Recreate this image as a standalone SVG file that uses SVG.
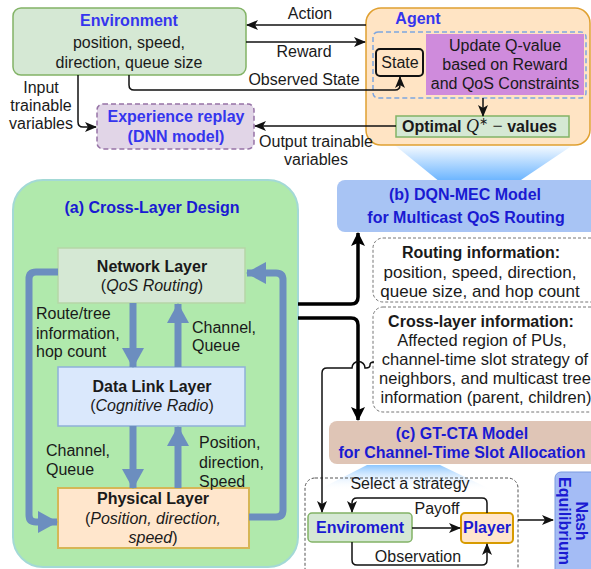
<svg xmlns="http://www.w3.org/2000/svg" width="591" height="569" viewBox="0 0 591 569">
<style>
text{font-family:"Liberation Sans",Arial,sans-serif;font-size:16px;fill:#1a1a1a}
.c{text-anchor:middle}
.b{font-weight:bold}
.t{font-weight:bold;fill:#3535ee}
.t2{font-weight:bold;fill:#1a1ad2}
.s17{font-size:17px}
.s165{font-size:16.5px}
.thin{fill:none;stroke:#111;stroke-width:1.5}
.thick{fill:none;stroke:#000;stroke-width:3.5}
.blue{fill:none;stroke:#6c8ebf;stroke-width:7}
</style>
<defs>
<marker id="ah" markerUnits="userSpaceOnUse" viewBox="0 0 12 10" refX="11" refY="5" markerWidth="12" markerHeight="10" orient="auto">
<path d="M0,0 L12,5 L0,10 L3,5 Z" fill="#111"/>
</marker>
<marker id="ahb" markerUnits="userSpaceOnUse" viewBox="0 0 14 14" refX="13" refY="7" markerWidth="14" markerHeight="14" orient="auto">
<path d="M0,0 L14,7 L0,14 L3,7 Z" fill="#000"/>
</marker>
<marker id="ahu" markerUnits="userSpaceOnUse" viewBox="0 0 20 22" refX="19" refY="11" markerWidth="20" markerHeight="22" orient="auto">
<path d="M0,0 L20,11 L0,22 Z" fill="#6c8ebf"/>
</marker>
<linearGradient id="g1" x1="0" y1="0" x2="0" y2="1">
<stop offset="0" stop-color="#ffffff"/>
<stop offset="1" stop-color="#66b2ff"/>
</linearGradient>
<linearGradient id="g2" x1="0" y1="0" x2="0" y2="1">
<stop offset="0" stop-color="#8cc6ff"/>
<stop offset="1" stop-color="#ffffff" stop-opacity="0"/>
</linearGradient>
</defs>

<!-- gradients -->
<polygon points="392,143 576,143 518,182 440,182" fill="url(#g1)"/>
<polygon points="367,465 440,465 492,490 318,490" fill="url(#g2)"/>

<!-- top nodes -->
<g id="environment">
<rect x="13" y="8" width="233" height="67" rx="8" fill="#d5e8d4" stroke="#82b366" stroke-width="1.5"/>
<text x="129" y="26" class="c t">Environment</text>
<text x="129" y="48" class="c">position, speed,</text>
<text x="129" y="68" class="c">direction, queue size</text>
</g>

<g id="agent">
<rect x="366" y="8" width="224" height="137" rx="15" fill="#ffe4c4" stroke="#e0a030" stroke-width="1.5"/>
<text x="418" y="24" class="c t">Agent</text>
<rect x="373" y="32" width="213" height="66" rx="5" fill="none" stroke="#7ea6e0" stroke-width="1.5" stroke-dasharray="5,3"/>
</g>

<g id="state">
<rect x="376" y="49" width="47" height="27" rx="4" fill="#ffe4c4" stroke="#111" stroke-width="2"/>
<text x="400" y="68" class="c">State</text>
</g>

<g id="update">
<rect x="426" y="34" width="158" height="61" fill="#cf8bdc"/>
<text x="505" y="51" class="c">Update Q-value</text>
<text x="505" y="70" class="c">based on Reward</text>
<text x="505" y="89" class="c">and QoS Constraints</text>
</g>

<g id="optimal">
<rect x="396" y="116" width="173" height="21" fill="#d5e8d4" stroke="#82b366" stroke-width="1.5"/>
<text x="402" y="132"><tspan class="b">Optimal </tspan><tspan font-family="'Liberation Serif',serif" font-style="italic" font-size="18">Q</tspan><tspan font-family="'Liberation Serif',serif" font-size="11" dy="-7">∗</tspan><tspan font-family="'Liberation Serif',serif" font-size="18" dy="7"> − </tspan><tspan class="b">values</tspan></text>
</g>

<g id="experience-replay">
<rect x="97" y="104" width="157" height="45" rx="6" fill="#e1d5e7" stroke="#9673a6" stroke-width="1.5" stroke-dasharray="5,3"/>
<text x="176" y="122" class="c t">Experience replay</text>
<text x="176" y="142" class="c t">(DNN model)</text>
</g>

<!-- cross-layer design -->
<g id="cross-layer">
<rect x="13" y="180" width="285" height="387" rx="30" fill="#b0e9ac" stroke="#a3d9d6" stroke-width="2"/>
<text x="152" y="213" class="c t2">(a) Cross-Layer Design</text>
</g>

<g id="network-layer">
<rect x="58" y="248" width="187" height="55" fill="#d5e8d4" stroke="#b5d6a7" stroke-width="1.5"/>
<text x="152" y="272" class="c b">Network Layer</text>
<text x="152" y="291" class="c">(<tspan font-style="italic">QoS Routing</tspan>)</text>
</g>

<g id="data-link-layer">
<rect x="58" y="367" width="187" height="59" fill="#dae8fc" stroke="#8fb0d9" stroke-width="1.5"/>
<text x="152" y="392" class="c b">Data Link Layer</text>
<text x="152" y="411" class="c">(<tspan font-style="italic">Cognitive Radio</tspan>)</text>
</g>

<g id="physical-layer">
<rect x="58" y="488" width="191" height="60" fill="#ffe6cc" stroke="#d6b656" stroke-width="2"/>
<text x="153" y="504" class="c b">Physical Layer</text>
<text x="153" y="524" class="c">(<tspan font-style="italic">Position, direction,</tspan></text>
<text x="153" y="543" class="c"><tspan font-style="italic">speed</tspan>)</text>
</g>

<!-- right side nodes -->
<g id="dqn-mec">
<rect x="337" y="180" width="270" height="52" rx="8" fill="#a8c4f4"/>
<text x="465" y="200" class="c t2">(b) DQN-MEC Model</text>
<text x="466" y="223" class="c t2">for Multicast QoS Routing</text>
</g>

<g id="routing-info">
<rect x="373" y="238" width="240" height="64" rx="10" fill="#fff" stroke="#777" stroke-width="1" stroke-dasharray="3,2"/>
<text x="481" y="258" class="c b" font-size="16.5">Routing information:</text>
<text x="480" y="278" class="c s17">position, speed, direction,</text>
<text x="480" y="297" class="c s17">queue size, and hop count</text>
</g>

<g id="cross-layer-info">
<rect x="373" y="307" width="240" height="105" rx="10" fill="#fff" stroke="#777" stroke-width="1" stroke-dasharray="3,2"/>
<text x="481" y="327" class="c b" font-size="17">Cross-layer information:</text>
<text x="482" y="346" class="c s165">Affected region of PUs,</text>
<text x="485" y="365" class="c s165">channel-time slot strategy of</text>
<text x="485" y="384" class="c s165">neighbors, and multicast tree</text>
<text x="486" y="403" class="c s165">information (parent, children)</text>
</g>

<g id="gt-cta">
<rect x="329" y="421" width="280" height="43" rx="8" fill="#dfc5b6"/>
<text x="462" y="439" class="c t2">(c) GT-CTA Model</text>
<text x="462" y="458" class="c t2">for Channel-Time Slot Allocation</text>
</g>

<g id="game">
<rect x="305" y="478" width="213" height="100" rx="10" fill="none" stroke="#555" stroke-width="1" stroke-dasharray="3,2"/>
<text x="410" y="489" class="c">Select a strategy</text>
</g>

<g id="enviroment">
<rect x="308" y="513" width="104" height="29" rx="4" fill="#d5e8d4" stroke="#82b366" stroke-width="1.5"/>
<text x="360" y="533" class="c t2">Enviroment</text>
</g>

<g id="player">
<rect x="461" y="513" width="52" height="30" rx="4" fill="#ffe6cc" stroke="#d79b00" stroke-width="2"/>
<text x="487" y="533" class="c t2">Player</text>
</g>

<g id="nash">
<rect x="555" y="472" width="50" height="110" rx="6" fill="#a4bcf5" stroke="#7a9ae0" stroke-width="1"/>
<text transform="translate(576,521) rotate(90)" class="c t2">Nash</text>
<text transform="translate(559,521) rotate(90)" class="c t2">Equilibrium</text>
</g>

<!-- connectors -->
<g id="connectors">
<!-- top -->
<line x1="366" y1="25" x2="247" y2="25" class="thin" marker-end="url(#ah)"/>
<text x="310" y="19" class="c">Action</text>
<line x1="246" y1="42" x2="365" y2="42" class="thin" marker-end="url(#ah)"/>
<text x="304" y="57" class="c">Reward</text>
<path d="M129,75 V85 Q129,90 134,90 H395 Q400,90 400,85 V77" class="thin" marker-end="url(#ah)"/>
<text x="304" y="85" class="c">Observed State</text>
<path d="M78,75 V122 Q78,127 83,127 H96" class="thin" marker-end="url(#ah)"/>
<text x="41" y="93" class="c">Input</text>
<text x="41" y="111" class="c">trainable</text>
<text x="41" y="129" class="c">variables</text>
<line x1="483" y1="98" x2="483" y2="116" class="thin" stroke-width="1" marker-end="url(#ah)"/>
<line x1="396" y1="126" x2="255" y2="126" class="thin" marker-end="url(#ah)"/>
<text x="316" y="147" class="c">Output trainable</text>
<text x="316" y="165" class="c">variables</text>

<!-- cross-layer blue arrows -->
<line x1="133" y1="303" x2="133" y2="367" class="blue" marker-end="url(#ahu)"/>
<line x1="178" y1="367" x2="178" y2="304" class="blue" marker-end="url(#ahu)"/>
<line x1="133" y1="426" x2="133" y2="488" class="blue" marker-end="url(#ahu)"/>
<line x1="178" y1="488" x2="178" y2="427" class="blue" marker-end="url(#ahu)"/>
<path d="M58,272 H36 Q29,272 29,279 V515 Q29,522 36,522 H57" class="blue" marker-end="url(#ahu)"/>
<path d="M249,517 H276 Q283,517 283,510 V280 Q283,273 276,273 H247" class="blue" marker-end="url(#ahu)"/>
<text x="36" y="319">Route/tree</text>
<text x="36" y="339">information,</text>
<text x="36" y="357">hop count</text>
<text x="192" y="333">Channel,</text>
<text x="192" y="351">Queue</text>
<text x="46" y="456">Channel,</text>
<text x="46" y="475">Queue</text>
<text x="199" y="448">Position,</text>
<text x="199" y="468">direction,</text>
<text x="199" y="487">Speed</text>

<!-- thick black -->
<path d="M298,304 H351 Q358,304 358,297 V233" class="thick" marker-end="url(#ahb)"/>
<path d="M298,318 H351 Q358,318 358,325 V420" class="thick" marker-end="url(#ahb)"/>
<path d="M374,362 Q370,362 370,365 Q370,368 366,368 H365 A6,6 0 0 0 352,368 H327 Q322,368 322,373 V512" class="thin" marker-end="url(#ah)"/>

<!-- game -->
<line x1="412" y1="528" x2="460" y2="528" class="thin" marker-end="url(#ah)"/>
<text x="437" y="514" class="c">Payoff</text>
<path d="M487,513 V503 Q487,498 482,498 H357 Q352,498 352,503 V512" class="thin" marker-end="url(#ah)"/>
<path d="M352,542 V560 Q352,565 357,565 H482 Q487,565 487,560 V544" class="thin" marker-end="url(#ah)"/>
<text x="418" y="562" class="c">Observation</text>
<line x1="518" y1="520" x2="553" y2="520" class="thin" marker-end="url(#ah)"/>
</g>
</svg>
